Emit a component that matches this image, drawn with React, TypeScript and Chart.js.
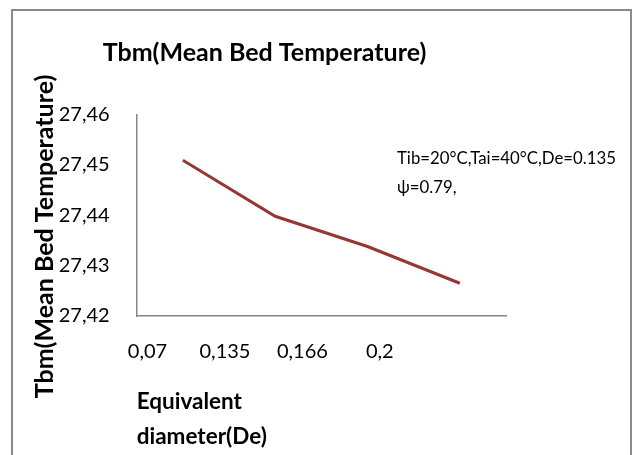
import React, { useEffect, useRef } from "react";
import { Chart, registerables } from "chart.js";

Chart.register(...registerables);

// ---- data ----
const categories = ["0,07", "0,135", "0,166", "0,2"];
const xTickLabels = ["0,07", "0,135", "0,166", "0,2"];
const tbmValues = [27.4509, 27.4398, 27.4338, 27.4265];
const yMin = 27.42;
const yMax = 27.46;
const yStep = 0.01;
const chartTitle = "Tbm(Mean Bed Temperature)";
const yTitle = "Tbm(Mean Bed Temperature)";
const xTitle = ["Equivalent", "diameter(De)"];
const annotationLines = ["Tib=20\u00B0C,Tai=40\u00B0C,De=0.135", "\u03C8=0.79,"];

const FONT = "Lato, 'Open Sans', sans-serif";
const AXIS_GRAY = "#868686";
const LINE_COLOR = "#953735";

const annotationPlugin = {
  id: "annotationText",
  afterDraw(chart: any) {
    const { ctx, chartArea } = chart;
    ctx.save();
    ctx.font = `16.8px ${FONT}`;
    ctx.fillStyle = "#000";
    ctx.textAlign = "left";
    ctx.textBaseline = "middle";
    const x = chartArea.right - 109;
    annotationLines.forEach((t, i) => {
      ctx.fillText(t, x, chartArea.top + 44 + i * 29);
    });
    ctx.restore();
  },
};

export default function App() {
  const ref = useRef<HTMLCanvasElement | null>(null);

  useEffect(() => {
    if (!ref.current) return;
    const chart = new Chart(ref.current, {
      type: "line",
      data: {
        labels: categories,
        datasets: [
          {
            label: "Tbm",
            data: tbmValues,
            borderColor: LINE_COLOR,
            backgroundColor: LINE_COLOR,
            borderWidth: 3,
            pointRadius: 0,
            tension: 0,
            fill: false,
          },
        ],
      },
      options: {
        responsive: false,
        animation: false,
        layout: { padding: { left: 10, right: 124, top: 0, bottom: 0 } },
        plugins: {
          legend: { display: false },
          tooltip: { enabled: false },
          title: {
            display: true,
            text: chartTitle,
            color: "#000",
            font: { family: FONT, size: 25, weight: "bold", lineHeight: 1.2 },
            padding: { top: 26.5, bottom: 47 },
          },
        },
        scales: {
          x: {
            type: "category",
            display: false,
            offset: true,
          },
          x2: {
            type: "linear",
            position: "bottom",
            min: -0.14,
            max: 4.63,
            afterBuildTicks: (axis: any) => {
              axis.ticks = xTickLabels.map((_, i) => ({ value: i }));
            },
            afterFit: (scale: any) => {
              scale.height = 139;
            },
            grid: { display: false, drawTicks: false },
            border: { display: true, color: AXIS_GRAY, width: 1.5 },
            ticks: {
              autoSkip: false,
              maxRotation: 0,
              padding: 23.7,
              color: "#000",
              font: { family: FONT, size: 20, lineHeight: 1.2 },
              callback: (_v: any, i: number) => xTickLabels[i],
            },
            title: {
              display: true,
              text: xTitle,
              align: "start",
              color: "#000",
              font: { family: FONT, size: 22.5, weight: "bold", lineHeight: 1.556 },
              padding: { top: 0, bottom: 0.8 },
            },
          },
          y: {
            min: yMin,
            max: yMax,
            afterFit: (scale: any) => {
              scale.width = 113.7;
            },
            grid: { display: false, drawTicks: false },
            border: { display: true, color: AXIS_GRAY, width: 1.5 },
            ticks: {
              stepSize: yStep,
              padding: 27,
              color: "#000",
              font: { family: FONT, size: 20, lineHeight: 1.2 },
              callback: (v: any) => Number(v).toFixed(2).replace(".", ","),
            },
            title: {
              display: true,
              text: yTitle + "       ",
              color: "#000",
              font: { family: FONT, size: 25, weight: "bold", lineHeight: 1.2 },
              padding: { top: 7, bottom: 0 },
            },
          },
        },
      },
      plugins: [annotationPlugin],
    });
    return () => chart.destroy();
  }, []);

  return (
    <div style={{ position: "fixed", inset: 0, overflow: "hidden", background: "#fff" }}>
      <div
        style={{
          position: "absolute",
          left: 11,
          top: 9,
          width: 621,
          height: 470,
          border: "2px solid #8a8a8a",
          boxSizing: "border-box",
        }}
      >
        <canvas ref={ref} width={617} height={444} style={{ display: "block" }} />
      </div>
    </div>
  );
}
